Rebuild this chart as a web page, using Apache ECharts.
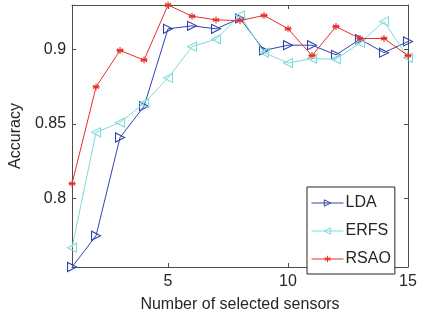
<!DOCTYPE html>
<html>
<head>
<meta charset="utf-8">
<script src="https://cdn.jsdelivr.net/npm/echarts@6/dist/echarts.min.js"></script>
<style>html,body{margin:0;padding:0;background:#fff;}#c{width:422px;height:320px;}</style>
</head>
<body>
<div id="c"></div>
<script>
const sensors = [1,2,3,4,5,6,7,8,9,10,11,12,13,14,15];
const ldaAcc  = [0.754,0.775,0.841,0.862,0.914,0.916,0.914,0.921,0.8995,0.903,0.903,0.8965,0.907,0.898,0.9055];
const erfsAcc = [0.767,0.8445,0.851,0.864,0.881,0.902,0.907,0.923,0.898,0.891,0.894,0.8935,0.9045,0.919,0.8945];
const rsaoAcc = [0.810,0.875,0.8995,0.893,0.930,0.9225,0.920,0.9195,0.923,0.914,0.896,0.9155,0.9075,0.9075,0.896];
const xTicks = [5,10,15];
const yTicks = [0.8,0.85,0.9];
const seriesNames = ['LDA','ERFS','RSAO'];

const font = "'Liberation Sans', Arial, Helvetica, sans-serif";
const axisColor = '#4d4d4d';
const textColor = '#262626';
const colors = ['#2f44ae','#7fdcd8','#e8302a'];
const asterisk = 'path://M0,-10L0,10M-8.66,-5L8.66,5M-8.66,5L8.66,-5M-10,0L10,0';

function pairs(ys){ return sensors.map((x,i)=>[x,ys[i]]); }

const allVals = ldaAcc.concat(erfsAcc, rsaoAcc);
const yMin = Math.min.apply(null, allVals);
const yMax = Math.max.apply(null, allVals);

const chart = echarts.init(document.getElementById('c'), null, {renderer:'canvas'});

function xAx(pos, showLabel){
  return {
    type:'value', min:1, max:15, position:pos,
    name: showLabel ? 'Number of selected sensors' : '',
    nameLocation:'middle', nameGap:30,
    nameTextStyle:{fontFamily:font, fontSize:16, color:textColor},
    axisLine:{show:true, onZero:false, lineStyle:{color:axisColor, width:1}},
    axisTick:{show:true, inside:true, length:4, customValues:xTicks, lineStyle:{color:axisColor}},
    axisLabel:{show:showLabel, customValues:xTicks, margin:7, fontFamily:font, fontSize:16, color:textColor},
    splitLine:{show:false}
  };
}
function yAx(pos, showLabel){
  return {
    type:'value', min:yMin, max:yMax, position:pos,
    name: showLabel ? 'Accuracy' : '',
    nameLocation:'middle', nameGap:40, nameRotate:90,
    nameTextStyle:{fontFamily:font, fontSize:16, color:textColor},
    axisLine:{show:true, onZero:false, lineStyle:{color:axisColor, width:1}},
    axisTick:{show:true, inside:true, length:4, customValues:yTicks, lineStyle:{color:axisColor}},
    axisLabel:{show:showLabel, customValues:yTicks, margin:6, fontFamily:font, fontSize:16, color:textColor},
    splitLine:{show:false}
  };
}

const symbols = ['triangle','triangle',asterisk];
const rotates = [-90,90,0];
const sizes = [9,9,7];

chart.setOption({
  animation:false,
  backgroundColor:'#fff',
  grid:{left:68, right:14, top:5, bottom:53},
  legend:{
    orient:'vertical', left:307, top:187,
    data:seriesNames.map((nm,k)=>({
      name:nm,
      itemStyle:{color:'transparent', borderColor:colors[k], borderWidth:1},
      lineStyle:{color:colors[k], width:1}
    })),
    backgroundColor:'#fff',
    borderColor:'#262626', borderWidth:1,
    padding:[8,4,7,4],
    itemWidth:32, itemHeight:8, itemGap:12,
    textStyle:{fontFamily:font, fontSize:16, color:textColor, padding:[0,0,0,-3]}
  },
  xAxis:[xAx('bottom',true), xAx('top',false)],
  yAxis:[yAx('left',true), yAx('right',false)],
  series: seriesNames.map((nm,k)=>({
    name:nm, type:'line', clip:false,
    data:pairs([ldaAcc,erfsAcc,rsaoAcc][k]),
    symbol:symbols[k], symbolRotate:rotates[k], symbolSize:sizes[k],
    showAllSymbol:true,
    lineStyle:{color:colors[k], width:1},
    itemStyle:{color:'transparent', borderColor:colors[k], borderWidth:1.1},
    emphasis:{disabled:true},
    z: 2+k
  }))
});
</script>
</body>
</html>
